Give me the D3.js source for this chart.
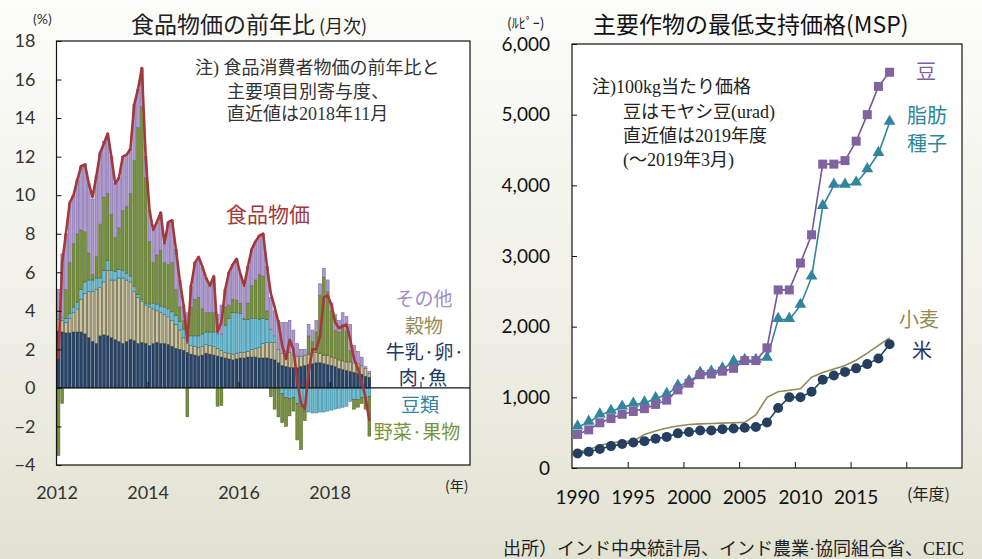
<!DOCTYPE html>
<html>
<head>
<meta charset="utf-8">
<script src="https://cdn.jsdelivr.net/npm/d3@7"></script>
<style>
  body { margin: 0; }
  svg { display: block; }
</style>
</head>
<body>
<script>
// ---- Left chart: food price YoY (monthly, Jan 2012 - Nov 2018) ----
const months = d3.range(83).map(i => new Date(2012, i, 1));

// contribution by item (% points)
const meat = [
  2.95, 2.9, 2.85, 2.85, 2.9, 2.9, 2.9, 2.8, 2.6, 2.4, 2.3, 2.7,
  2.75, 2.7, 2.6, 2.5, 2.4, 2.3, 2.4, 2.5, 2.45, 2.3, 2.35, 2.3,
  2.2, 2.3, 2.35, 2.3, 2.3, 2.25, 2.15, 2.05, 2.0, 1.95, 1.85, 1.75,
  1.7, 1.65, 1.7, 1.8, 1.75, 1.7, 1.65, 1.6, 1.55, 1.5, 1.45, 1.5,
  1.55, 1.55, 1.6, 1.6, 1.6, 1.55, 1.55, 1.55, 1.5, 1.45, 1.3, 1.15,
  1.1, 1.05, 1.05, 1.05, 1.1, 1.15, 1.2, 1.25, 1.3, 1.3, 1.25, 1.2,
  1.15, 1.1, 1.0, 0.95, 0.9, 0.85, 0.8, 0.75, 0.7, 0.6, 0.55
];
const cereal = [
  0.6, 0.6, 0.55, 0.75, 1.0, 1.2, 1.7, 2.1, 2.4, 2.6, 2.8, 2.5,
  2.75, 3.4, 3.0, 3.1, 3.3, 3.4, 3.2, 3.0, 2.55, 2.4, 2.15, 2.0,
  2.0, 1.8, 1.65, 1.6, 1.5, 1.45, 1.35, 1.25, 1.0, 0.65, 0.45, 0.45,
  0.45, 0.45, 0.45, 0.45, 0.45, 0.45, 0.4, 0.35, 0.3, 0.3, 0.3, 0.3,
  0.3, 0.3, 0.3, 0.4, 0.45, 0.55, 0.75, 0.8, 0.85, 0.9, 0.7, 0.65,
  0.8, 0.8, 0.7, 0.6, 0.55, 0.55, 0.55, 0.6, 0.55, 0.5, 0.45, 0.5,
  0.45, 0.45, 0.45, 0.45, 0.45, 0.5, 0.5, 0.5, 0.45, 0.4, 0.2
];
const pulses = [
  0.2, 0.15, 0.2, 0.25, 0.3, 0.35, 0.5, 0.6, 0.6, 0.6, 0.6, 0.5,
  0.6, 0.5, 0.5, 0.45, 0.45, 0.4, 0.35, 0.3, 0.25, 0.15, 0.1, 0.1,
  0.15, 0.3, 0.35, 0.35, 0.4, 0.4, 0.45, 0.45, 0.45, 0.45, 0.45, 0.5,
  0.55, 0.6, 0.65, 0.65, 0.7, 0.75, 0.75, 0.85, 1.4, 1.8, 2.15, 2.1,
  2.0, 1.7, 1.65, 1.6, 1.55, 1.45, 1.3, 1.2, 0.7, 0.35, 0.0, -0.3,
  -0.5, -0.55, -0.5, -0.8, -0.95, -1.2, -1.25, -1.3, -1.3, -1.25, -1.25, -1.2,
  -1.15, -1.1, -1.05, -1.0, -0.95, -0.7, -0.6, -0.6, -0.5, -0.5, -0.45
];
const vegFruit = [
  -3.5, -0.8, 1.5, 2.65, 3.3, 3.55, 3.1, 2.6, 1.4, 0.3, 1.1, 2.8,
  3.8, 3.5, 2.9, 1.75, 2.15, 3.1, 3.45, 4.3, 6.55, 8.65, 10.0, 6.5,
  3.25, 2.1, 2.55, 2.9, 2.3, 2.3, 2.55, 1.35, 0.75, 0.45, -1.5, 1.5,
  1.9, 2.0, 1.3, 1.0, 1.0, 1.0, -0.95, -0.9, 0.95, 0.7, 0.7, 0.65,
  0.55, 0.05, 0.85, 1.7, 2.0, 2.35, 2.2, 0.45, -0.45, -1.1, -1.5, -1.5,
  -1.5, -0.9, -0.7, -1.9, -2.25, -0.5, 0.95, 0.55, 1.05, 3.0, 4.05, 3.3,
  2.4, 1.45, 1.45, 1.9, 1.6, 0.6, -0.5, -0.4, -0.3, -0.6, -2.05
];
const others = [
  1.35, 3.3, 2.9, 3.1, 2.5, 2.8, 3.3, 3.5, 3.6, 3.9, 4.2, 3.7,
  2.9, 3.1, 3.0, 2.8, 2.6, 2.8, 2.7, 2.3, 2.9, 2.0, 2.0, 1.1,
  1.6, 1.7, 1.7, 1.95, 1.0, 2.2, 2.2, 2.1, 1.4, 0.8, 1.15, 1.1,
  1.9, 2.1, 2.2, 1.8, 1.5, 1.9, 1.0, 1.5, 0.9, 1.7, 1.8, 2.15,
  1.5, 1.7, 1.9, 1.9, 2.0, 2.0, 2.2, 2.3, 1.65, 1.3, 1.5, 1.6,
  1.5, 1.65, 1.25, 0.65, 0.35, 0.3, 0.6, 0.6, 0.6, 0.6, 0.45, 0.6,
  0.4, 0.8, 0.6, 0.6, 0.75, 1.35, 0.9, 0.65, 0.45, 0.1, 0.1
];
// food CPI YoY (%)
const foodCpi = [
  1.5, 6.5, 8.0, 9.6, 10.0, 10.8, 11.5, 11.6, 10.6, 9.9, 11.0, 12.2,
  12.7, 13.2, 12.0, 10.6, 10.9, 12.0, 12.1, 12.4, 14.7, 15.5, 16.6, 12.0,
  9.2, 8.2, 8.6, 9.1, 7.5, 8.6, 8.7, 7.2, 5.6, 4.3, 2.4, 5.3,
  6.5, 6.8, 6.3, 5.7, 5.3, 5.8, 2.9, 3.4, 5.1, 6.0, 6.4, 6.7,
  5.9, 5.3, 6.3, 7.2, 7.6, 7.9, 8.0, 6.3, 4.9, 4.2, 3.4, 2.2,
  1.5, 2.5, 2.0, 0.4, -0.8, -1.1, 0.8, 2.0, 2.0, 2.7, 4.7, 4.8,
  4.3, 3.4, 3.1, 3.2, 3.3, 2.5, 1.5, 1.0, 0.3, -0.5, -1.7
];

// ---- Right chart: MSP (rupees per 100kg), fiscal years ----
const years = d3.range(1990, 2019);
const mspPulses = [475, 540, 640, 700, 760, 800, 840, 900, 960, 1105, 1200, 1320, 1330, 1370, 1410,
  1520, 1520, 1700, 2520, 2520, 2900, 3300, 4300, 4300, 4350, 4625, 5000, 5400, 5600];
const mspOilseed = [580, 645, 750, 800, 860, 900, 920, 980, 1040, 1155, 1220, 1340, 1355, 1400, 1500,
  1520, 1520, 1550, 2100, 2100, 2300, 2700, 3700, 4000, 4000, 4030, 4220, 4450, 4890];
const mspWheat = [225, 260, 320, 355, 375, 380, 475, 525, 565, 595, 615, 625, 630, 635, 640,
  645, 750, 1000, 1080, 1100, 1120, 1285, 1350, 1400, 1450, 1525, 1625, 1735, 1840];
const mspRice = [205, 230, 270, 310, 340, 360, 380, 415, 440, 490, 510, 530, 530, 550, 560,
  570, 580, 645, 850, 1000, 1000, 1080, 1250, 1310, 1360, 1410, 1470, 1550, 1750];

const leftYearLabels = [2012, 2014, 2016, 2018];
const rightYearLabels = [1990, 1995, 2000, 2005, 2010, 2015];

const W = 982, H = 559;
const jp = "'Noto Sans CJK JP', sans-serif";
const num = "Lato, 'Noto Sans', sans-serif";
const serifJp = "'Liberation Serif', 'Noto Sans CJK JP', serif";

const svg = d3.select("body").append("svg")
  .attr("width", W)
  .attr("height", H);

// background
const grad = svg.append("defs").append("linearGradient")
  .attr("id", "bg").attr("x1", 0).attr("y1", 0).attr("x2", 0).attr("y2", 1);
grad.append("stop").attr("offset", "0%").attr("stop-color", "#fcfcfa");
grad.append("stop").attr("offset", "55%").attr("stop-color", "#f0f0e8");
grad.append("stop").attr("offset", "100%").attr("stop-color", "#e2e2d2");
svg.append("rect").attr("width", W).attr("height", H).attr("fill", "url(#bg)");

// ================= LEFT CHART =================
const L = { left: 56.5, right: 470, top: 41, bottom: 465 };

const x1 = d3.scaleTime()
  .domain([new Date(2012, 0, 1), new Date(2021, 1, 1)])
  .range([L.left, L.right]);
const y1 = d3.scaleLinear().domain([-4, 18]).range([L.bottom, L.top]);

svg.append("rect")
  .attr("x", L.left).attr("y", L.top)
  .attr("width", L.right - L.left).attr("height", L.bottom - L.top)
  .attr("fill", "#fff");

const rows = months.map((d, i) => ({
  date: d, meat: meat[i], cereal: cereal[i], pulses: pulses[i], veg: vegFruit[i], other: others[i]
}));
const keys = ["meat", "cereal", "pulses", "veg", "other"];
const fills = { meat: "#274468", cereal: "#cbc49f", pulses: "#6dbdd4", veg: "#77933c", other: "#ad9bcd" };
const strokes = { meat: "#1b2f4a", cereal: "#4a452a", pulses: "#2c7d93", veg: "#4f6228", other: "#7b63a3" };

const stacked = d3.stack().keys(keys).offset(d3.stackOffsetDiverging)(rows);

const monthW = date => x1(d3.timeMonth.offset(date, 1)) - x1(date);

svg.append("g")
  .selectAll("g")
  .data(stacked)
  .join("g")
  .attr("fill", s => fills[s.key])
  .attr("stroke", s => strokes[s.key])
  .attr("stroke-width", 0.6)
  .selectAll("rect")
  .data(s => s)
  .join("rect")
  .attr("x", d => x1(d.data.date) + 0.5)
  .attr("width", d => monthW(d.data.date) - 1)
  .attr("y", d => y1(Math.max(d[0], d[1])))
  .attr("height", d => Math.abs(y1(d[0]) - y1(d[1])));

// zero line
svg.append("line")
  .attr("x1", L.left).attr("x2", L.right)
  .attr("y1", y1(0)).attr("y2", y1(0))
  .attr("stroke", "#111").attr("stroke-width", 1.2);

// year ticks on the zero line
svg.append("g")
  .attr("transform", `translate(0,${y1(0)})`)
  .call(d3.axisBottom(x1)
    .tickValues([2014, 2016, 2018, 2020].map(y => new Date(y, 0, 1)))
    .tickSize(-6).tickFormat(""))
  .call(g => g.select(".domain").remove())
  .call(g => g.selectAll("line").attr("stroke", "#111"));

// food CPI line
const foodLine = d3.line()
  .x((d, i) => x1(months[i]) + monthW(months[i]) / 2)
  .y(d => y1(d));
svg.append("path")
  .datum(foodCpi)
  .attr("fill", "none")
  .attr("stroke", "#a3393a")
  .attr("stroke-width", 2.6)
  .attr("stroke-linejoin", "round")
  .attr("d", foodLine);

// frame
svg.append("rect")
  .attr("x", L.left).attr("y", L.top)
  .attr("width", L.right - L.left).attr("height", L.bottom - L.top)
  .attr("fill", "none").attr("stroke", "#111").attr("stroke-width", 1.2);

// y axis
svg.append("g")
  .attr("transform", `translate(${L.left},0)`)
  .call(d3.axisLeft(y1).tickValues(d3.range(-4, 19, 2)).tickSize(-5).tickPadding(21))
  .call(g => g.select(".domain").remove())
  .call(g => g.selectAll("line").attr("stroke", "#111"))
  .call(g => g.selectAll("text").attr("font-family", num).attr("font-size", 18).attr("fill", "#333"));

// x labels
svg.append("g")
  .attr("transform", `translate(0,${L.bottom})`)
  .call(d3.axisBottom(x1)
    .tickValues(leftYearLabels.map(y => new Date(y, 0, 1)))
    .tickSize(0).tickPadding(21)
    .tickFormat(d3.timeFormat("%Y")))
  .call(g => g.select(".domain").remove())
  .call(g => g.selectAll("text").attr("font-family", num).attr("font-size", 18).attr("fill", "#333"));

svg.append("text").attr("x", 33).attr("y", 24)
  .attr("font-family", num).attr("font-size", 14).attr("fill", "#333").text("(%)");
svg.append("text").attr("x", 445).attr("y", 491)
  .attr("font-family", jp).attr("font-size", 14).attr("fill", "#222").text("(年)");

// title
const t1 = svg.append("text").attr("x", 131).attr("y", 33)
  .attr("font-family", jp).attr("font-size", 23).attr("fill", "#222");
t1.append("tspan").text("食品物価の前年比");
t1.append("tspan").attr("font-size", 18).text(" (月次)");

// note (one text block, one tspan per line)
const note1 = [
  { x: 195, y: 74, t: "注) 食品消費者物価の前年比と" },
  { x: 227, y: 98, t: "主要項目別寄与度、" },
  { x: 227, y: 120, t: "直近値は2018年11月" }
];
svg.append("text")
  .attr("font-family", serifJp).attr("font-size", 18).attr("fill", "#333")
  .selectAll("tspan").data(note1).join("tspan")
  .attr("x", d => d.x).attr("y", d => d.y)
  .text(d => d.t);

svg.append("text").attr("x", 268).attr("y", 222).attr("text-anchor", "middle")
  .attr("font-family", jp).attr("font-size", 21).attr("fill", "#a3393a").text("食品物価");

// item labels
const legendL = [
  { t: "その他", x: 424, y: 306, c: "#a08cc6" },
  { t: "穀物", x: 424, y: 333, c: "#948a54" },
  { t: "牛乳·卵·", x: 425, y: 359, c: "#1f3864" },
  { t: "肉·魚", x: 423, y: 385, c: "#1f3864" },
  { t: "豆類", x: 420, y: 412, c: "#31859c" },
  { t: "野菜·果物", x: 417, y: 439, c: "#77933c" }
];
svg.append("g").selectAll("text").data(legendL).join("text")
  .attr("x", d => d.x).attr("y", d => d.y)
  .attr("text-anchor", "middle")
  .attr("font-family", jp).attr("font-size", 19)
  .attr("fill", d => d.c)
  .text(d => d.t);

// ================= RIGHT CHART =================
const R = { left: 572, right: 962, top: 44, bottom: 468 };

const x2 = d3.scaleBand().domain(d3.range(1990, 2025)).range([R.left, R.right]);
const xEdge = d3.scaleLinear().domain([1990, 2025]).range([R.left, R.right]);
const y2 = d3.scaleLinear().domain([0, 6000]).range([R.bottom, R.top]);
const cx = y => x2(y) + x2.bandwidth() / 2;

svg.append("rect")
  .attr("x", R.left).attr("y", R.top)
  .attr("width", R.right - R.left).attr("height", R.bottom - R.top)
  .attr("fill", "#fff").attr("stroke", "#111").attr("stroke-width", 1.2);

svg.append("g")
  .attr("transform", `translate(${R.left},0)`)
  .call(d3.axisLeft(y2).ticks(6).tickFormat(d3.format(",")).tickSize(-5).tickPadding(22))
  .call(g => g.select(".domain").remove())
  .call(g => g.selectAll("line").attr("stroke", "#111"))
  .call(g => g.selectAll("text").attr("font-family", num).attr("font-size", 19).attr("fill", "#111"));

svg.append("g")
  .attr("transform", `translate(0,${R.bottom})`)
  .call(d3.axisBottom(xEdge).tickValues([1995, 2000, 2005, 2010, 2015, 2020]).tickSize(-6).tickFormat(""))
  .call(g => g.select(".domain").remove())
  .call(g => g.selectAll("line").attr("stroke", "#111"));

svg.append("g")
  .attr("transform", `translate(0,${R.bottom})`)
  .call(d3.axisBottom(x2).tickValues(rightYearLabels).tickSize(0).tickPadding(23))
  .call(g => g.select(".domain").remove())
  .call(g => g.selectAll("text").attr("font-family", num).attr("font-size", 19).attr("fill", "#111"));

const line2 = vals => d3.line().x((d, i) => cx(years[i])).y(d => y2(d))(vals);

// wheat
svg.append("path").attr("d", line2(mspWheat))
  .attr("fill", "none").attr("stroke", "#948a54").attr("stroke-width", 1.6);
// rice
svg.append("path").attr("d", line2(mspRice))
  .attr("fill", "none").attr("stroke", "#243f60").attr("stroke-width", 1.6);
svg.append("g").selectAll("circle").data(mspRice).join("circle")
  .attr("cx", (d, i) => cx(years[i])).attr("cy", d => y2(d)).attr("r", 5)
  .attr("fill", "#243f60");
// oilseeds
svg.append("path").attr("d", line2(mspOilseed))
  .attr("fill", "none").attr("stroke", "#31859c").attr("stroke-width", 1.6);
const tri = d3.symbol().type(d3.symbolTriangle).size(60);
svg.append("g").selectAll("path").data(mspOilseed).join("path")
  .attr("d", tri)
  .attr("transform", (d, i) => `translate(${cx(years[i])},${y2(d) - 1})`)
  .attr("fill", "#31859c");
// pulses
svg.append("path").attr("d", line2(mspPulses))
  .attr("fill", "none").attr("stroke", "#71589a").attr("stroke-width", 1.6);
svg.append("g").selectAll("rect").data(mspPulses).join("rect")
  .attr("x", (d, i) => cx(years[i]) - 4.5).attr("y", d => y2(d) - 4.5)
  .attr("width", 9).attr("height", 9)
  .attr("fill", "#8064a2");

svg.append("text").attr("x", 507).attr("y", 28)
  .attr("font-family", jp).attr("font-size", 14).attr("fill", "#222").text("(ﾙﾋﾟｰ)");
svg.append("text").attr("x", 907).attr("y", 500)
  .attr("font-family", jp).attr("font-size", 16).attr("fill", "#222").text("(年度)");

svg.append("text").attr("x", 593).attr("y", 33)
  .attr("font-family", jp).attr("font-size", 23).attr("fill", "#111")
  .text("主要作物の最低支持価格(MSP)");

const note2 = [
  { x: 592, y: 93, t: "注)100kg当たり価格" },
  { x: 623, y: 118, t: "豆はモヤシ豆(urad)" },
  { x: 623, y: 142, t: "直近値は2019年度" },
  { x: 623, y: 166, t: "(～2019年3月)" }
];
svg.append("text")
  .attr("font-family", serifJp).attr("font-size", 18).attr("fill", "#222")
  .selectAll("tspan").data(note2).join("tspan")
  .attr("x", d => d.x).attr("y", d => d.y)
  .text(d => d.t);

const legendR = [
  { t: "豆", x: 926, y: 79, c: "#7f5fa0" },
  { t: "脂肪", x: 927, y: 123, c: "#31859c" },
  { t: "種子", x: 927, y: 151, c: "#31859c" },
  { t: "小麦", x: 919, y: 327, c: "#948a54" },
  { t: "米", x: 922, y: 358, c: "#1f3864" }
];
svg.append("g").selectAll("text").data(legendR).join("text")
  .attr("x", d => d.x).attr("y", d => d.y)
  .attr("text-anchor", "middle")
  .attr("font-family", jp).attr("font-size", 20)
  .attr("fill", d => d.c)
  .text(d => d.t);

// source
svg.append("text").attr("x", 503).attr("y", 555)
  .attr("font-family", serifJp).attr("font-size", 18).attr("fill", "#222")
  .text("出所）インド中央統計局、インド農業·協同組合省、CEIC");
</script>
</body>
</html>
